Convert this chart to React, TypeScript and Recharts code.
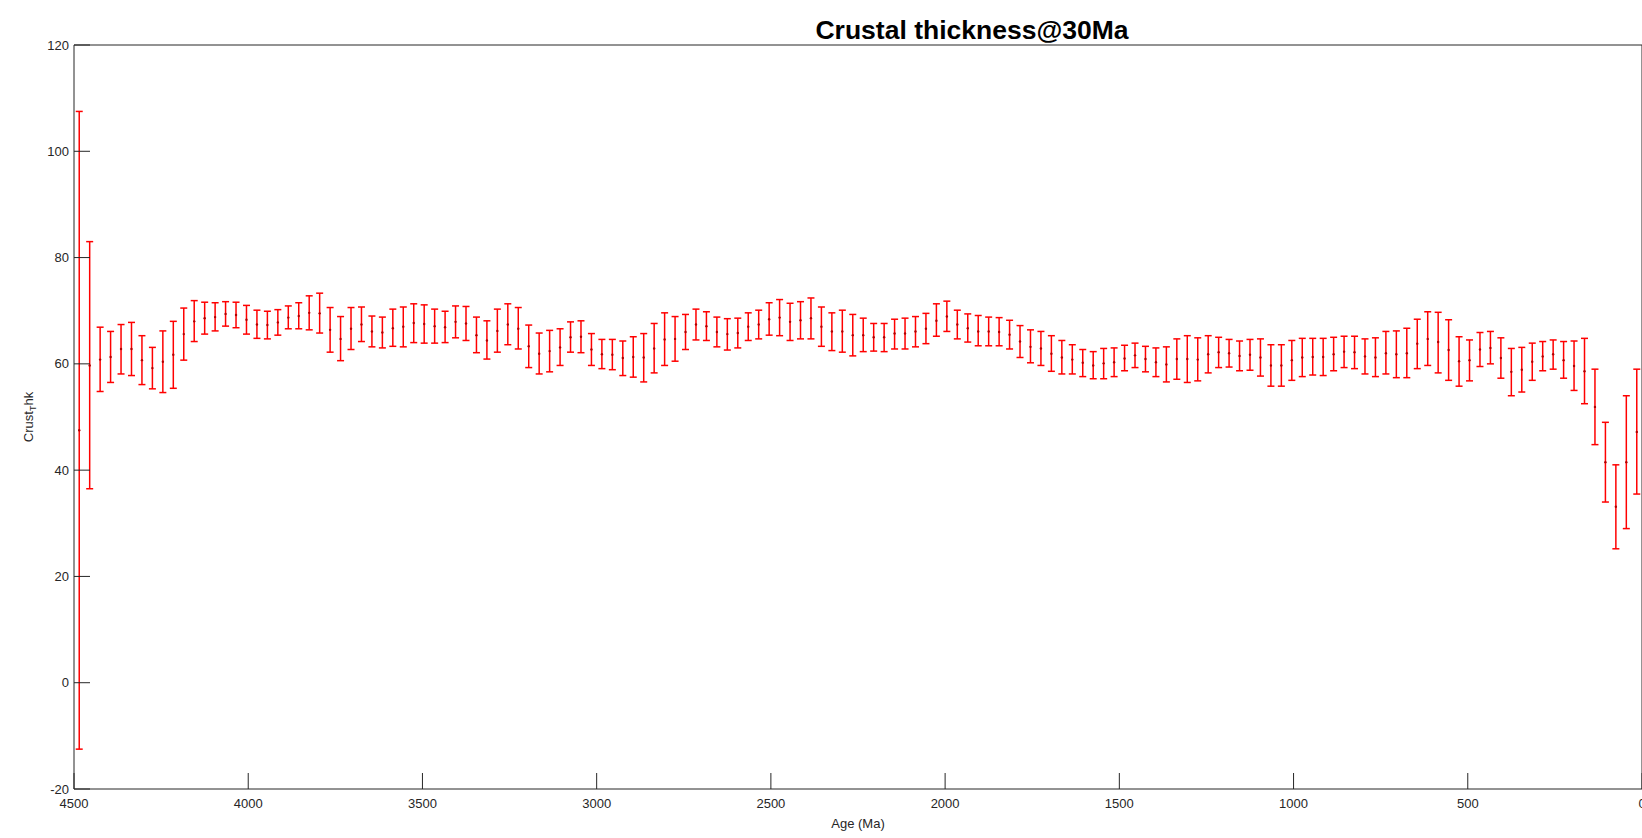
import React from 'react';
import { ComposedChart, Scatter, ErrorBar, XAxis, YAxis } from 'recharts';

const ages = [
  4485, 4455, 4425, 4395, 4365, 4335, 4305, 4275, 4245, 4215,
  4185, 4155, 4125, 4095, 4065, 4035, 4005, 3975, 3945, 3915,
  3885, 3855, 3825, 3795, 3765, 3735, 3705, 3675, 3645, 3615,
  3585, 3555, 3525, 3495, 3465, 3435, 3405, 3375, 3345, 3315,
  3285, 3255, 3225, 3195, 3165, 3135, 3105, 3075, 3045, 3015,
  2985, 2955, 2925, 2895, 2865, 2835, 2805, 2775, 2745, 2715,
  2685, 2655, 2625, 2595, 2565, 2535, 2505, 2475, 2445, 2415,
  2385, 2355, 2325, 2295, 2265, 2235, 2205, 2175, 2145, 2115,
  2085, 2055, 2025, 1995, 1965, 1935, 1905, 1875, 1845, 1815,
  1785, 1755, 1725, 1695, 1665, 1635, 1605, 1575, 1545, 1515,
  1485, 1455, 1425, 1395, 1365, 1335, 1305, 1275, 1245, 1215,
  1185, 1155, 1125, 1095, 1065, 1035, 1005, 975, 945, 915,
  885, 855, 825, 795, 765, 735, 705, 675, 645, 615,
  585, 555, 525, 495, 465, 435, 405, 375, 345, 315,
  285, 255, 225, 195, 165, 135, 105, 75, 45, 15,
];

const upper = [
  107.5, 83.0, 66.9, 66.1, 67.4, 67.8, 65.3, 63.1, 66.2, 68.0,
  70.5, 71.9, 71.6, 71.5, 71.7, 71.6, 71.0, 70.1, 69.9, 70.2,
  70.9, 71.5, 72.8, 73.3, 70.6, 68.9, 70.6, 70.7, 69.0, 68.8,
  70.3, 70.7, 71.3, 71.1, 70.3, 69.9, 70.9, 70.8, 68.8, 68.1,
  70.3, 71.3, 70.6, 67.3, 65.8, 66.3, 66.6, 67.9, 68.1, 65.7,
  64.6, 64.6, 64.3, 65.1, 65.7, 67.6, 69.6, 68.9, 69.3, 70.3,
  69.8, 68.8, 68.5, 68.6, 69.6, 70.1, 71.5, 72.1, 71.4, 71.7,
  72.4, 70.7, 69.6, 70.1, 69.3, 68.6, 67.6, 67.6, 68.4, 68.6,
  68.9, 69.5, 71.3, 71.8, 70.1, 69.4, 69.1, 68.8, 68.7, 68.2,
  67.2, 66.4, 66.1, 65.3, 64.4, 63.6, 62.7, 62.3, 62.9, 63.0,
  63.5, 63.9, 63.3, 63.0, 63.2, 64.7, 65.3, 64.9, 65.3, 65.0,
  64.6, 64.3, 64.6, 64.7, 63.6, 63.6, 64.4, 64.8, 64.8, 64.8,
  65.0, 65.2, 65.2, 64.7, 64.9, 66.1, 66.2, 66.7, 68.4, 69.8,
  69.7, 68.3, 65.1, 64.5, 65.9, 66.1, 64.9, 62.9, 63.1, 63.9,
  64.2, 64.5, 64.2, 64.3, 64.8, 59.0, 49.0, 41.0, 54.0, 59.0,
];

const lower = [
  -12.5, 36.5, 54.8, 56.5, 58.1, 57.8, 56.1, 55.3, 54.6, 55.4,
  60.7, 64.2, 65.6, 66.2, 67.1, 66.8, 65.6, 64.8, 64.7, 65.4,
  66.6, 66.6, 66.4, 65.8, 62.2, 60.6, 62.7, 64.2, 63.2, 63.0,
  63.3, 63.2, 64.0, 63.9, 63.9, 64.0, 64.9, 64.4, 62.1, 60.9,
  62.2, 63.6, 62.8, 59.3, 58.1, 58.5, 59.7, 62.2, 62.1, 59.7,
  59.1, 58.9, 57.8, 57.5, 56.6, 58.3, 59.7, 60.5, 62.7, 64.5,
  64.4, 63.2, 62.6, 63.0, 64.4, 64.7, 65.4, 65.3, 64.4, 64.7,
  64.7, 63.3, 62.5, 62.2, 61.5, 62.3, 62.4, 62.3, 62.8, 62.8,
  63.2, 63.8, 65.2, 66.1, 64.7, 64.1, 63.4, 63.4, 63.4, 62.8,
  61.2, 60.2, 59.7, 58.6, 58.1, 58.1, 57.6, 57.2, 57.2, 57.6,
  58.7, 59.3, 58.5, 57.6, 56.6, 57.1, 56.5, 56.8, 58.3, 59.3,
  59.4, 58.7, 58.8, 57.7, 55.8, 55.8, 56.9, 57.6, 57.9, 57.8,
  58.7, 59.3, 59.1, 58.1, 57.6, 58.1, 57.4, 57.4, 59.1, 59.7,
  58.3, 56.9, 55.8, 56.8, 59.5, 60.0, 57.3, 54.0, 54.7, 56.9,
  58.7, 59.0, 57.3, 55.0, 52.5, 44.8, 34.0, 25.2, 29.0, 35.5,
];

const means = [
  47.5, 59.7, 60.8, 61.3, 62.8, 62.8, 60.7, 59.2, 60.4, 61.7,
  65.6, 68.0, 68.6, 68.8, 69.4, 69.2, 68.3, 67.4, 67.3, 67.8,
  68.7, 69.0, 69.6, 69.5, 66.4, 64.7, 66.6, 67.4, 66.1, 65.9,
  66.7, 67.0, 67.7, 67.5, 67.1, 66.9, 67.9, 67.6, 65.4, 64.4,
  66.2, 67.4, 66.6, 63.3, 61.9, 62.4, 63.1, 65.0, 65.1, 62.7,
  61.8, 61.7, 61.1, 61.3, 61.2, 62.9, 64.6, 64.7, 66.0, 67.4,
  67.1, 66.0, 65.6, 65.8, 67.0, 67.4, 68.4, 68.7, 67.9, 68.2,
  68.6, 67.0, 66.1, 66.1, 65.4, 65.4, 65.0, 65.0, 65.7, 65.7,
  66.1, 66.6, 68.1, 68.9, 67.4, 66.7, 66.1, 66.1, 66.0, 65.5,
  64.2, 63.2, 62.9, 61.9, 61.2, 60.8, 60.2, 59.7, 60.1, 60.3,
  61.0, 61.6, 60.9, 60.3, 59.9, 60.9, 60.9, 60.8, 61.8, 62.2,
  62.0, 61.5, 61.7, 61.2, 59.7, 59.7, 60.7, 61.2, 61.3, 61.3,
  61.8, 62.3, 62.2, 61.4, 61.2, 62.0, 61.8, 62.0, 63.8, 64.7,
  64.1, 62.6, 60.5, 60.7, 62.7, 63.0, 61.1, 58.5, 58.9, 60.4,
  61.4, 61.8, 60.7, 59.6, 58.6, 51.9, 41.5, 33.1, 41.5, 47.2,
];

const xTicks = [0, 500, 1000, 1500, 2000, 2500, 3000, 3500, 4000, 4500];
const yTicks = [-20, 0, 20, 40, 60, 80, 100, 120];

const data = ages.map((age, i) => ({
  age,
  mean: means[i],
  err: [means[i] - lower[i], upper[i] - means[i]],
}));

const FONT = '"Liberation Sans", Arial, Helvetica, sans-serif';
const AX = '#262626';

const Dot = (props: any) => {
  const { cx, cy } = props;
  if (cx == null || cy == null) return null;
  return <circle cx={cx} cy={cy} r={1.2} fill="#b00000" />;
};

export default function App() {
  return (
    <div
      style={{
        position: 'absolute',
        left: 0,
        top: 0,
        width: 1642,
        height: 838,
        overflow: 'hidden',
        background: '#fff',
        fontFamily: FONT,
      }}
    >
      <ComposedChart
        width={1700}
        height={838}
        data={data}
        margin={{ top: 44, right: 57, bottom: 19, left: 14 }}
        style={{ fontFamily: FONT }}
      >
        <XAxis
          dataKey="age"
          type="number"
          domain={[0, 4500]}
          reversed
          ticks={xTicks}
          interval={0}
          height={30}
          tickSize={-16}
          tickMargin={26}
          stroke={AX}
          tick={{ fill: AX, fontSize: 13, fontFamily: FONT }}
          allowDataOverflow
        />
        <XAxis
          xAxisId="top"
          orientation="top"
          dataKey="age"
          type="number"
          domain={[0, 4500]}
          reversed
          ticks={xTicks}
          interval={0}
          height={1}
          tickSize={-16}
          tick={false}
          stroke={AX}
          allowDataOverflow
        />
        <YAxis
          dataKey="mean"
          type="number"
          domain={[-20, 120]}
          ticks={yTicks}
          interval={0}
          width={60}
          tickSize={-16}
          tickMargin={21}
          stroke={AX}
          tick={{ fill: AX, fontSize: 13, fontFamily: FONT }}
          allowDataOverflow
        />
        <YAxis
          yAxisId="right"
          orientation="right"
          type="number"
          domain={[-20, 120]}
          ticks={yTicks}
          interval={0}
          width={1}
          tickSize={-16}
          tick={false}
          stroke={AX}
          allowDataOverflow
        />
        <Scatter dataKey="mean" shape={<Dot />} isAnimationActive={false}>
          <ErrorBar
            dataKey="err"
            direction="y"
            width={3.5}
            stroke="#ff0000"
            strokeWidth={1.5}
            isAnimationActive={false}
          />
        </Scatter>
      </ComposedChart>
      <svg
        width={1642}
        height={838}
        style={{ position: 'absolute', left: 0, top: 0, pointerEvents: 'none' }}
      >
        <text
          x={972}
          y={39}
          textAnchor="middle"
          fontSize={26.5}
          fontWeight="bold"
          fill="#000"
          fontFamily={FONT}
        >
          Crustal thickness@30Ma
        </text>
        <text x={858} y={828} textAnchor="middle" fontSize={13} fill={AX} fontFamily={FONT}>
          Age (Ma)
        </text>
        <text
          x={33}
          y={417}
          textAnchor="middle"
          fontSize={13}
          fill={AX}
          fontFamily={FONT}
          transform="rotate(-90 33 417)"
        >
          Crust
          <tspan dy={3} fontSize={9}>T</tspan>
          <tspan dy={-3}>hk</tspan>
        </text>
      </svg>
    </div>
  );
}
